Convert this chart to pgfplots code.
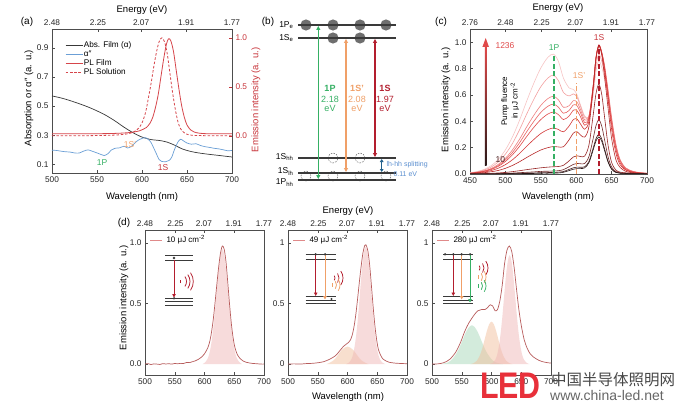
\documentclass[border=0pt]{standalone}
\usepackage{pgfplots}
\pgfplotsset{compat=1.18}
\usepackage{pgfplotstable}
\usepackage{fontspec}
\setmainfont{Liberation Sans}
\newfontfamily\cjk{Noto Sans CJK SC}
\usetikzlibrary{arrows.meta}

\definecolor{axgray}{HTML}{4D4D4D}
\definecolor{absblk}{HTML}{383838}
\definecolor{alblue}{HTML}{6B9FD6}
\definecolor{plred}{HTML}{D6454A}
\definecolor{axred}{HTML}{C8343A}
\definecolor{grn}{HTML}{35B064}
\definecolor{org}{HTML}{F0A068}
\definecolor{dred}{HTML}{B31E2E}
\definecolor{lhblue}{HTML}{5B8FD0}
\definecolor{splitblue}{HTML}{1F5F8B}
\definecolor{lvl}{HTML}{3A3A3A}
\definecolor{circ}{HTML}{6E6E6E}
\definecolor{rose}{HTML}{B85C5C}
\definecolor{roseleg}{HTML}{E08A8A}
\definecolor{pinkfill}{HTML}{F0B8B8}
\definecolor{orgfill}{HTML}{F2C09E}
\definecolor{grnfill}{HTML}{A8D8BA}
\definecolor{wmred}{HTML}{E8303A}
\definecolor{cA}{HTML}{2A1818}
\definecolor{cB}{HTML}{4A2222}
\definecolor{cC}{HTML}{722A2A}
\definecolor{cD}{HTML}{962424}
\definecolor{cE}{HTML}{B82828}
\definecolor{cF}{HTML}{D23636}
\definecolor{cG}{HTML}{E04A4A}
\definecolor{cH}{HTML}{E86262}
\definecolor{cI}{HTML}{EE7E7E}
\definecolor{cJ}{HTML}{F3A0A0}
\definecolor{cK}{HTML}{F7C4C4}

\newcommand{\wave}[5]{\draw[#1, line width=0.75pt] ([shift={(-#5:#4pt)}]axis cs:#2,#3) arc[start angle=-#5, end angle=#5, radius=#4pt];}

\pgfplotsset{
  every axis/.append style={
    scale only axis, anchor=south west,
    /pgf/number format/assume math mode=true,
    tick label style={font=\fontsize{8.3}{9}\selectfont, text=black!85},
    axis line style={axgray, line width=0.6pt},
    tick style={axgray, line width=0.5pt},
    major tick length=3pt,
  },
}

\pgfplotstableread{
wl a b c d e f g h i j k
450 0.000 0.000 0.000 0.001 0.003 0.004 0.005 0.006 0.006 0.008 0.009
460 0.001 0.001 0.001 0.002 0.007 0.009 0.011 0.012 0.013 0.016 0.019
470 0.001 0.001 0.002 0.003 0.010 0.015 0.020 0.022 0.024 0.030 0.035
480 0.001 0.001 0.002 0.005 0.017 0.026 0.034 0.038 0.042 0.053 0.064
490 0.001 0.002 0.004 0.008 0.027 0.044 0.058 0.065 0.073 0.092 0.111
500 0.002 0.003 0.005 0.012 0.043 0.071 0.095 0.107 0.119 0.151 0.183
510 0.002 0.004 0.007 0.018 0.065 0.108 0.146 0.164 0.183 0.232 0.282
520 0.003 0.005 0.010 0.025 0.093 0.156 0.210 0.237 0.264 0.336 0.408
530 0.004 0.007 0.013 0.033 0.125 0.210 0.284 0.320 0.357 0.454 0.552
540 0.004 0.008 0.016 0.040 0.155 0.261 0.353 0.398 0.444 0.565 0.687
550 0.006 0.010 0.020 0.047 0.182 0.307 0.413 0.467 0.520 0.662 0.804
560 0.006 0.011 0.021 0.052 0.200 0.337 0.455 0.514 0.572 0.728 0.885
568 0.007 0.012 0.023 0.055 0.208 0.349 0.470 0.530 0.590 0.750 0.909
575 0.008 0.014 0.025 0.057 0.205 0.337 0.450 0.506 0.562 0.707 0.853
582 0.013 0.019 0.033 0.066 0.207 0.320 0.413 0.461 0.506 0.618 0.727
590 0.026 0.035 0.055 0.100 0.260 0.364 0.440 0.482 0.518 0.592 0.653
596 0.036 0.047 0.073 0.129 0.310 0.413 0.484 0.524 0.556 0.608 0.642
601 0.041 0.052 0.080 0.138 0.321 0.418 0.482 0.519 0.547 0.585 0.603
606 0.041 0.051 0.078 0.133 0.296 0.380 0.435 0.466 0.490 0.515 0.525
612 0.047 0.055 0.080 0.136 0.280 0.340 0.370 0.390 0.410 0.430 0.440
618 0.086 0.095 0.132 0.220 0.360 0.400 0.420 0.430 0.440 0.440 0.440
624 0.183 0.197 0.270 0.448 0.652 0.661 0.666 0.669 0.672 0.629 0.597
628 0.251 0.269 0.368 0.611 0.877 0.881 0.883 0.885 0.886 0.825 0.781
632 0.281 0.301 0.411 0.682 0.970 0.975 0.978 0.980 0.975 0.909 0.859
636 0.249 0.267 0.365 0.606 0.905 0.918 0.922 0.925 0.922 0.858 0.811
640 0.179 0.192 0.262 0.435 0.740 0.790 0.805 0.815 0.825 0.760 0.720
645 0.090 0.096 0.131 0.218 0.500 0.570 0.600 0.620 0.640 0.580 0.550
650 0.036 0.039 0.053 0.088 0.270 0.340 0.380 0.410 0.430 0.400 0.380
656 0.012 0.013 0.018 0.030 0.110 0.160 0.190 0.210 0.230 0.210 0.200
662 0.006 0.006 0.009 0.014 0.050 0.070 0.085 0.100 0.110 0.100 0.100
670 0.004 0.004 0.005 0.009 0.020 0.030 0.034 0.040 0.045 0.045 0.045
680 0.002 0.002 0.003 0.005 0.009 0.012 0.015 0.017 0.020 0.020 0.020
690 0.002 0.002 0.002 0.004 0.005 0.006 0.008 0.009 0.010 0.010 0.010
700 0.001 0.001 0.002 0.003 0.003 0.004 0.004 0.005 0.005 0.005 0.005
}\tc

\begin{document}
\begin{tikzpicture}
\useasboundingbox (0,0) rectangle (689pt,412pt);
\fill[white] (0,0) rectangle (689pt,412pt);

% ================= (a) left/bottom =================
\begin{axis}[at={(52pt,239pt)}, width=180pt, height=144pt,
  xmin=500, xmax=700, ymin=0.04, ymax=1.03,
  xtick={500,550,600,650,700}, xticklabels={500,550,600,650,700}, xtick pos=left,
  ytick={0.1,0.3,0.5,0.7,0.9}, yticklabels={0.1,0.3,0.5,0.7,0.9}, ytick pos=left]
\addplot[absblk, line width=0.7pt, smooth] coordinates {(500,0.570)(510,0.556)(520,0.538)(530,0.517)(540,0.494)(550,0.467)(560,0.436)(570,0.398)(580,0.355)(590,0.317)(600,0.287)(610,0.270)(620,0.263)(628,0.252)(636,0.232)(645,0.205)(655,0.187)(665,0.176)(675,0.168)(685,0.161)(700,0.150)};
\addplot[alblue, line width=0.7pt, smooth] coordinates {(500,0.197)(505,0.195)(510,0.190)(515,0.186)(520,0.184)(525,0.178)(530,0.177)(535,0.190)(540,0.199)(545,0.189)(550,0.178)(555,0.166)(558,0.160)(562,0.172)(566,0.198)(570,0.210)(575,0.213)(580,0.224)(584,0.212)(588,0.222)(592,0.246)(596,0.266)(600,0.278)(604,0.283)(607,0.271)(610,0.250)(613,0.212)(616,0.172)(619,0.132)(622,0.119)(626,0.117)(630,0.126)(633,0.148)(636,0.200)(640,0.254)(643,0.272)(646,0.261)(650,0.246)(655,0.238)(660,0.241)(665,0.229)(670,0.221)(675,0.216)(680,0.210)(685,0.206)(690,0.200)(695,0.193)(700,0.195)};
\end{axis}

% ================= (a) right/top =================
\begin{axis}[at={(52pt,239pt)}, width=180pt, height=144pt,
  xmin=500, xmax=700, ymin=-0.38, ymax=1.09,
  axis line style={draw=none},
  xtick={500,551.1,599,649.2,700}, xticklabels={2.48,2.25,2.07,1.91,1.77},
  xtick pos=right, xticklabel pos=right,
  ytick={0,0.5,1}, yticklabels={0.0,0.5,1.0}, ytick pos=right, yticklabel pos=right,
  ytick style={axred}, yticklabel style={text=axred},
  legend cell align=left,
  legend style={at={(0.072,0.919)}, anchor=north west, draw=none, fill=none,
    font=\fontsize{8.2}{9}\selectfont, inner sep=0pt, row sep=0pt, nodes={inner sep=0.8pt}}]
\addlegendimage{absblk, line width=0.7pt}\addlegendentry{Abs. Film (α)}
\addlegendimage{alblue, line width=0.7pt}\addlegendentry{α″}
\addplot[plred, line width=0.8pt, smooth] coordinates {(500,0.02)(520,0.02)(540,0.021)(560,0.022)(575,0.026)(585,0.032)(592,0.04)(597,0.05)(601,0.065)(605,0.085)(609,0.13)(612,0.19)(615,0.29)(618,0.42)(621,0.6)(624,0.78)(627,0.93)(629.5,0.99)(632,0.97)(635,0.86)(638,0.67)(641,0.48)(644,0.31)(647,0.19)(650,0.11)(654,0.06)(658,0.038)(664,0.026)(672,0.021)(685,0.02)(700,0.02)};
\addlegendentry{PL Film}
\addplot[plred, line width=0.8pt, smooth, dash pattern=on 2.5pt off 1.8pt] coordinates {(500,0.0)(540,0.001)(560,0.004)(575,0.01)(585,0.022)(591,0.04)(596,0.075)(600,0.13)(604,0.24)(607,0.38)(610,0.53)(613,0.7)(616,0.85)(619,0.96)(622,1.0)(625,0.96)(628,0.84)(631,0.64)(634,0.44)(637,0.27)(640,0.14)(643,0.07)(647,0.03)(652,0.01)(660,0.003)(680,0)(700,0)};
\addlegendentry{PL Solution}
\draw[axred, line width=0.6pt] (rel axis cs:1,0) -- (rel axis cs:1,1);
\end{axis}

% ================= (c) =================
\begin{axis}[at={(470pt,238pt)}, width=177pt, height=145pt,
  xmin=450, xmax=700, ymin=0, ymax=1.1,
  xtick={450,500,550,600,650,700}, xticklabels={450,500,550,600,650,700}, xtick pos=left,
  ytick={0,0.2,0.4,0.6,0.8,1}, yticklabels={0.0,0.2,0.4,0.6,0.8,1.0}, ytick pos=left]
\addplot[cK, smooth, line width=0.6pt] table[x=wl, y=k] {\tc};
\addplot[cJ, smooth, line width=0.6pt] table[x=wl, y=j] {\tc};
\addplot[cI, smooth, line width=0.6pt] table[x=wl, y=i] {\tc};
\addplot[cH, smooth, line width=0.6pt] table[x=wl, y=h] {\tc};
\addplot[cG, smooth, line width=0.6pt] table[x=wl, y=g] {\tc};
\addplot[cF, smooth, line width=0.6pt] table[x=wl, y=f] {\tc};
\addplot[cE, smooth, line width=0.6pt] table[x=wl, y=e] {\tc};
\addplot[cD, smooth, line width=0.6pt] table[x=wl, y=d] {\tc};
\addplot[cC, smooth, line width=0.6pt] table[x=wl, y=c] {\tc};
\addplot[cB, smooth, line width=0.6pt] table[x=wl, y=b] {\tc};
\addplot[cA, smooth, line width=0.6pt] table[x=wl, y=a] {\tc};
\addplot[grn, line width=1.3pt, dash pattern=on 5pt off 2.5pt] coordinates {(568.6,0)(568.6,0.9)};
\addplot[org, line width=1.3pt, dash pattern=on 5pt off 2.5pt] coordinates {(600,0)(600,0.69)};
\addplot[dred, line width=1.3pt, dash pattern=on 5pt off 2.5pt] coordinates {(632,0)(632,0.975)};
\end{axis}
\begin{axis}[at={(470pt,238pt)}, width=177pt, height=145pt,
  xmin=450, xmax=700, ymin=0, ymax=1.1, axis line style={draw=none}, ytick=\empty,
  xtick={450,500,551.1,599,649.2,700}, xticklabels={2.76,2.48,2.25,2.07,1.91,1.77},
  xtick pos=right, xticklabel pos=right]
\end{axis}

% ================= (d1) =================
\begin{axis}[at={(145pt,37pt)}, width=119pt, height=145pt,
  xmin=500, xmax=700, ymin=-0.09, ymax=1.107,
  xtick={500,550,600,650,700}, xticklabels={500,550,600,650,700}, xtick pos=left,
  ytick={0,0.5,1}, yticklabels={0.0,0.5,1.0}, ytick pos=left]
\addplot[draw=none, fill=pinkfill, fill opacity=0.5, smooth] coordinates {(597,0)(602,0.019)(606,0.053)(609,0.104)(612,0.188)(615,0.31)(618,0.46)(621,0.63)(624,0.79)(627,0.907)(630,0.95)(633,0.907)(636,0.79)(639,0.63)(642,0.46)(645,0.31)(648,0.188)(651,0.104)(654,0.053)(658,0.019)(663,0)} \closedcycle;
\addplot[rose, line width=0.7pt, smooth] coordinates {(500,0.0)(505,0.004)(510,-0.004)(515,0.002)(520,0.0)(525,-0.003)(530,0.004)(535,0.001)(540,0.003)(545,0.0)(550,0.005)(555,0.003)(560,0.006)(565,0.005)(570,0.014)(575,0.012)(580,0.02)(585,0.028)(590,0.04)(595,0.058)(600,0.085)(603,0.11)(606,0.14)(609,0.19)(612,0.27)(615,0.38)(618,0.52)(621,0.67)(624,0.81)(627,0.92)(630,0.975)(633,0.95)(636,0.85)(639,0.68)(642,0.5)(645,0.34)(648,0.22)(651,0.14)(655,0.08)(660,0.045)(665,0.025)(670,0.015)(675,0.01)(680,0.006)(685,0.004)(690,0.002)(695,0.0)(700,0.0)};
\end{axis}
\begin{axis}[at={(145pt,37pt)}, width=119pt, height=145pt,
  xmin=500, xmax=700, ymin=-0.09, ymax=1.107, axis line style={draw=none}, ytick=\empty,
  xtick={500,551.1,599,649.2,700}, xticklabels={2.48,2.25,2.07,1.91,1.77},
  xtick pos=right, xticklabel pos=right]
\end{axis}

% ================= (d2) =================
\begin{axis}[at={(288pt,37pt)}, width=119pt, height=145pt,
  xmin=500, xmax=700, ymin=-0.09, ymax=1.107,
  xtick={500,550,600,650,700}, xticklabels={500,550,600,650,700}, xtick pos=left,
  ytick={0,0.5,1}, yticklabel={}, ytick pos=left]
\addplot[draw=none, fill=orgfill, fill opacity=0.5, smooth] coordinates {(565,0)(570,0.011)(575,0.025)(580,0.049)(585,0.082)(590,0.115)(595,0.135)(600,0.145)(605,0.135)(610,0.115)(615,0.082)(620,0.049)(625,0.025)(630,0.011)(635,0)} \closedcycle;
\addplot[draw=none, fill=pinkfill, fill opacity=0.5, smooth] coordinates {(597.5,0)(602.5,0.013)(606.5,0.04)(609.5,0.083)(612.5,0.162)(615.5,0.278)(618.5,0.436)(621.5,0.622)(624.5,0.794)(627.5,0.92)(630.5,0.97)(633.5,0.92)(636.5,0.794)(639.5,0.622)(642.5,0.436)(645.5,0.278)(648.5,0.162)(651.5,0.083)(654.5,0.04)(658.5,0.013)(663.5,0)} \closedcycle;
\addplot[rose, line width=0.7pt, smooth] coordinates {(500,0.0)(510,0.002)(520,0.0)(530,0.004)(540,0.006)(550,0.011)(560,0.02)(570,0.04)(580,0.07)(587,0.11)(593,0.145)(598,0.165)(602,0.18)(605,0.2)(608,0.24)(611,0.31)(614,0.41)(617,0.54)(620,0.68)(623,0.81)(626,0.92)(629,0.98)(631,0.985)(634,0.94)(637,0.83)(640,0.66)(643,0.48)(646,0.32)(649,0.2)(652,0.12)(656,0.07)(660,0.04)(665,0.025)(670,0.015)(680,0.008)(690,0.005)(700,0.003)};
\end{axis}
\begin{axis}[at={(288pt,37pt)}, width=119pt, height=145pt,
  xmin=500, xmax=700, ymin=-0.09, ymax=1.107, axis line style={draw=none}, ytick=\empty,
  xtick={500,551.1,599,649.2,700}, xticklabels={2.48,2.25,2.07,1.91,1.77},
  xtick pos=right, xticklabel pos=right]
\end{axis}

% ================= (d3) =================
\begin{axis}[at={(432pt,37pt)}, width=119pt, height=145pt,
  xmin=500, xmax=700, ymin=-0.09, ymax=1.107,
  xtick={500,550,600,650,700}, xticklabels={500,550,600,650,700}, xtick pos=left,
  ytick={0,0.5,1}, yticklabel={}, ytick pos=left]
\addplot[draw=none, fill=grnfill, fill opacity=0.5, smooth] coordinates {(515,0)(527,0.014)(532,0.03)(537,0.059)(542,0.096)(547,0.146)(552,0.206)(557,0.263)(562,0.304)(567,0.32)(572,0.304)(577,0.263)(582,0.206)(587,0.146)(592,0.096)(597,0.059)(602,0.03)(607,0.014)(619,0)} \closedcycle;
\addplot[draw=none, fill=orgfill, fill opacity=0.5, smooth] coordinates {(565,0)(570,0.008)(575,0.026)(580,0.067)(584,0.121)(588,0.193)(592,0.269)(596,0.328)(600,0.35)(604,0.328)(608,0.269)(612,0.193)(616,0.121)(620,0.067)(625,0.026)(630,0.008)(635,0)} \closedcycle;
\addplot[draw=none, fill=pinkfill, fill opacity=0.5, smooth] coordinates {(597.5,0)(602.5,0.012)(606.5,0.037)(609.5,0.077)(612.5,0.15)(615.5,0.258)(618.5,0.405)(621.5,0.577)(624.5,0.737)(627.5,0.854)(630.5,0.9)(633.5,0.854)(636.5,0.737)(639.5,0.577)(642.5,0.405)(645.5,0.258)(648.5,0.15)(651.5,0.077)(654.5,0.037)(658.5,0.012)(663.5,0)} \closedcycle;
\addplot[rose, line width=0.7pt, smooth] coordinates {(500,0.0)(510,0.002)(520,0.012)(530,0.04)(540,0.1)(548,0.18)(555,0.27)(562,0.34)(570,0.4)(577,0.44)(583,0.45)(589,0.45)(594,0.47)(598,0.49)(602,0.48)(606,0.44)(610,0.45)(614,0.52)(618,0.65)(622,0.83)(626,0.94)(630,0.975)(634,0.93)(638,0.8)(642,0.62)(646,0.45)(650,0.32)(655,0.2)(660,0.13)(665,0.085)(670,0.06)(680,0.03)(690,0.015)(700,0.008)};
\end{axis}
\begin{axis}[at={(432pt,37pt)}, width=119pt, height=145pt,
  xmin=500, xmax=700, ymin=-0.09, ymax=1.107, axis line style={draw=none}, ytick=\empty,
  xtick={500,551.1,599,649.2,700}, xticklabels={2.48,2.25,2.07,1.91,1.77},
  xtick pos=right, xticklabel pos=right]
\end{axis}

% ================= canvas (annotations, panel b, insets) =================
\begin{axis}[at={(0pt,0pt)}, width=689pt, height=412pt, xmin=0, xmax=689, ymin=0, ymax=412,
  y dir=reverse, hide axis, clip=false]
% panel letters
\node[font=\fontsize{10}{12}\selectfont] at (27,22) {(a)};
\node[font=\fontsize{10}{12}\selectfont] at (268,22) {(b)};
\node[font=\fontsize{10}{12}\selectfont] at (441,22) {(c)};
\node[font=\fontsize{10}{12}\selectfont] at (124,223) {(d)};
% axis titles
\node[font=\fontsize{9.5}{11}\selectfont] at (142,10) {Energy (eV)};
\node[font=\fontsize{9.5}{11}\selectfont] at (142,197) {Wavelength (nm)};
\node[font=\fontsize{9.5}{11}\selectfont, rotate=90] at (29,98) {Absorption or α″ (a. u.)};
\node[font=\fontsize{9.5}{11}\selectfont, rotate=90, text=axred] at (256,100) {Emission intensity (a. u.)};
\node[font=\fontsize{9.5}{11}\selectfont] at (558,8) {Energy (eV)};
\node[font=\fontsize{9.5}{11}\selectfont] at (558,197) {Wavelength (nm)};
\node[font=\fontsize{9.5}{11}\selectfont, rotate=90] at (446,100) {Emission intensity (a. u.)};
\node[font=\fontsize{9.5}{11}\selectfont] at (348,211) {Energy (eV)};
\node[font=\fontsize{9.5}{11}\selectfont] at (348,397) {Wavelength (nm)};
\node[font=\fontsize{9.5}{11}\selectfont, rotate=90] at (124,298) {Emission intensity (a. u.)};
% (a) labels
\node[grn, font=\fontsize{8.5}{9}\selectfont] at (102,163) {1P};
\node[org, font=\fontsize{8.5}{9}\selectfont] at (130,145) {1S'};
\node[axred, font=\fontsize{8.5}{9}\selectfont] at (163,168) {1S};
% (c) labels
\node[grn, font=\fontsize{8.5}{9}\selectfont] at (554,48) {1P};
\node[org, font=\fontsize{8.5}{9}\selectfont] at (579,76) {1S'};
\node[axred, font=\fontsize{8.5}{9}\selectfont] at (599,38) {1S};
\shade[bottom color=cA, top color=cG] (484.9,165) rectangle (486.5,46);
\fill[cG] (482.4,47) -- (489,47) -- (485.7,38) -- cycle;
\node[cG, anchor=west, font=\fontsize{8.5}{9}\selectfont] at (492,45.5) {1236};
\node[cB, anchor=west, font=\fontsize{8.5}{9}\selectfont] at (492,160) {10};
\node[rotate=90, font=\fontsize{8}{9}\selectfont] at (505,101) {Pump fluence};
\node[rotate=90, font=\fontsize{8}{9}\selectfont] at (515,101) {in μJ cm\textsuperscript{-2}};
% ---------- panel (b) ----------
\fill[circ] (306,25) circle[radius=5.6pt];
\fill[circ] (333,25) circle[radius=5.6pt];
\fill[circ] (360,25) circle[radius=5.6pt];
\fill[circ] (386,25) circle[radius=5.6pt];
\fill[circ] (333,38) circle[radius=5.6pt];
\fill[circ] (360,38) circle[radius=5.6pt];
\draw[circ, line width=0.5pt, dash pattern=on 1.6pt off 1.2pt] (333,158) circle[radius=5pt];
\draw[circ, line width=0.5pt, dash pattern=on 1.6pt off 1.2pt] (360,158) circle[radius=5pt];
\draw[circ, line width=0.5pt, dash pattern=on 1.6pt off 1.2pt] (306,176) circle[radius=5pt];
\draw[circ, line width=0.5pt, dash pattern=on 1.6pt off 1.2pt] (333,176) circle[radius=5pt];
\draw[circ, line width=0.5pt, dash pattern=on 1.6pt off 1.2pt] (360,176) circle[radius=5pt];
\draw[circ, line width=0.5pt, dash pattern=on 1.6pt off 1.2pt] (386,176) circle[radius=5pt];
\draw[lvl, line width=1.2pt] (298,25) -- (396,25);
\draw[lvl, line width=1.2pt] (298,38) -- (396,38);
\draw[lvl, line width=1.2pt] (298,158) -- (396,158);
\draw[lvl, line width=1.2pt] (298,173) -- (396,173);
\draw[lvl, line width=1.2pt] (298,180) -- (396,180);
\draw[grn, line width=1.1pt, {Triangle[length=4pt,width=4pt]}-{Triangle[length=4pt,width=4pt]}] (318.3,26) -- (318.3,179);
\draw[org, line width=1.1pt, {Triangle[length=4pt,width=4pt]}-{Triangle[length=4pt,width=4pt]}] (346,39) -- (346,172);
\draw[dred, line width=1.1pt, {Triangle[length=4pt,width=4pt]}-{Triangle[length=4pt,width=4pt]}] (375,39) -- (375,157);
\draw[splitblue, line width=0.9pt, {Triangle[length=3pt,width=3.5pt]}-{Triangle[length=3pt,width=3.5pt]}] (381.7,159) -- (381.7,172);
\node[grn, font=\bfseries\fontsize{9}{10}\selectfont] at (330,88) {1P};
\node[grn, font=\fontsize{9}{10}\selectfont] at (330,99) {2.18};
\node[grn, font=\fontsize{9}{10}\selectfont] at (330,108.5) {eV};
\node[org, font=\bfseries\fontsize{9}{10}\selectfont] at (357,88) {1S'};
\node[org, font=\fontsize{9}{10}\selectfont] at (357,99) {2.08};
\node[org, font=\fontsize{9}{10}\selectfont] at (357,108.5) {eV};
\node[dred, font=\bfseries\fontsize{9}{10}\selectfont] at (385,88) {1S};
\node[dred, font=\fontsize{9}{10}\selectfont] at (385,99) {1.97};
\node[dred, font=\fontsize{9}{10}\selectfont] at (385,108.5) {eV};
\node[lhblue, anchor=west, font=\fontsize{7}{8}\selectfont] at (383,165) {lh-hh splitting};
\node[lhblue, anchor=west, font=\fontsize{7}{8}\selectfont] at (390,174.5) {0.11 eV};
\node[anchor=east, font=\fontsize{8.5}{9}\selectfont] at (297,25) {1P\textsubscript{e}};
\node[anchor=east, font=\fontsize{8.5}{9}\selectfont] at (297,38) {1S\textsubscript{e}};
\node[anchor=east, font=\fontsize{8.5}{9}\selectfont] at (297,157) {1S\textsubscript{hh}};
\node[anchor=east, font=\fontsize{8.5}{9}\selectfont] at (297,171.5) {1S\textsubscript{lh}};
\node[anchor=east, font=\fontsize{8.5}{9}\selectfont] at (297,182.5) {1P\textsubscript{hh}};
% ---------- (d) legends ----------
\draw[roseleg, line width=0.8pt] (150,240) -- (161.5,240);
\node[anchor=west, font=\fontsize{8}{9}\selectfont] at (163,240) {10 μJ cm\textsuperscript{-2}};
\draw[roseleg, line width=0.8pt] (293,240) -- (304.5,240);
\node[anchor=west, font=\fontsize{8}{9}\selectfont] at (306,240) {49 μJ cm\textsuperscript{-2}};
\draw[roseleg, line width=0.8pt] (437,240) -- (448.5,240);
\node[anchor=west, font=\fontsize{8}{9}\selectfont] at (450,240) {280 μJ cm\textsuperscript{-2}};
% ---------- (d1) inset ----------
\draw[lvl, line width=0.9pt] (165,255.7) -- (193.3,255.7);
\draw[lvl, line width=0.9pt] (165,260) -- (193.3,260);
\draw[lvl, line width=0.9pt] (165,298.3) -- (193.3,298.3);
\draw[lvl, line width=0.9pt] (165,301.7) -- (193.3,301.7);
\draw[lvl, line width=0.9pt] (165,305) -- (193.3,305);
\draw[dred, line width=0.9pt, -{Triangle[length=3.5pt,width=3.5pt]}] (174,260) -- (174,297.5);
\fill[lvl] (174,258) circle[radius=1.3pt];
\fill[lvl] (174,298.3) circle[radius=1.3pt];
\wave{dred}{178}{281.5}{3}{35}
\wave{dred}{178}{281.5}{8.5}{35}
\wave{dred}{178}{281.5}{12}{35}
\wave{dred}{178}{281.5}{15.3}{35}
% ---------- (d2) inset ----------
\draw[lvl, line width=0.9pt] (305.7,254.3) -- (335.7,254.3);
\draw[lvl, line width=0.9pt] (305.7,259) -- (335.7,259);
\draw[lvl, line width=0.9pt] (305.7,296.7) -- (335.7,296.7);
\draw[lvl, line width=0.9pt] (305.7,300) -- (335.7,300);
\draw[lvl, line width=0.9pt] (305.7,303.3) -- (335.7,303.3);
\draw[dred, line width=0.9pt, -{Triangle[length=3.5pt,width=3.5pt]}] (315.7,255) -- (315.7,296);
\draw[org, line width=0.9pt, -{Triangle[length=3.5pt,width=3.5pt]}] (325,255) -- (325,299.5);
\fill[lvl] (315.7,254.3) circle[radius=1.3pt];
\fill[lvl] (325,254.3) circle[radius=1.3pt];
\fill[lvl] (331.5,299) circle[radius=1.2pt];
\wave{dred}{331}{278}{4}{35}
\wave{dred}{331}{278}{8}{35}
\wave{dred}{331}{278}{12}{35}
\wave{org}{330}{285}{3}{35}
\wave{org}{330}{285}{6.5}{35}
\wave{org}{330}{285}{10}{35}
% ---------- (d3) inset ----------
\draw[lvl, line width=0.9pt] (443.3,254.3) -- (473.3,254.3);
\draw[lvl, line width=0.9pt] (443.3,259) -- (473.3,259);
\draw[lvl, line width=0.9pt] (443.3,296.7) -- (473.3,296.7);
\draw[lvl, line width=0.9pt] (443.3,300) -- (473.3,300);
\draw[lvl, line width=0.9pt] (443.3,303.3) -- (473.3,303.3);
\draw[dred, line width=0.9pt, -{Triangle[length=3.5pt,width=3.5pt]}] (453.3,255) -- (453.3,296);
\draw[org, line width=0.9pt, -{Triangle[length=3.5pt,width=3.5pt]}] (461.7,255) -- (461.7,299.5);
\draw[grn, line width=0.9pt, -{Triangle[length=3.5pt,width=3.5pt]}] (470,255) -- (470,302.5);
\fill[lvl] (445,254.3) circle[radius=1.3pt];
\fill[lvl] (453.3,254.3) circle[radius=1.3pt];
\fill[lvl] (461.7,254.3) circle[radius=1.3pt];
\fill[lvl] (470,254.3) circle[radius=1.3pt];
\wave{dred}{476}{268}{4}{35}
\wave{dred}{476}{268}{8}{35}
\wave{dred}{476}{268}{12}{35}
\wave{org}{476}{277}{3}{35}
\wave{org}{476}{277}{6.5}{35}
\wave{org}{476}{277}{10}{35}
\wave{grn}{476}{286}{3}{35}
\wave{grn}{476}{286}{6.5}{35}
\wave{grn}{476}{286}{10}{35}
% ---------- watermark ----------
\node[anchor=west, text=wmred, font=\bfseries\fontsize{37}{37}\selectfont, xscale=0.82, inner sep=0pt] at (480,386) {LED};
\node[anchor=west, text=black!72, font=\cjk\fontsize{15.5}{16}\selectfont, inner sep=0pt] at (551,380) {中国半导体照明网};
\node[anchor=west, text=black!60, font=\fontsize{14}{15}\selectfont, inner sep=0pt] at (550,395) {www.china-led.net};
\end{axis}
\end{tikzpicture}
\end{document}
